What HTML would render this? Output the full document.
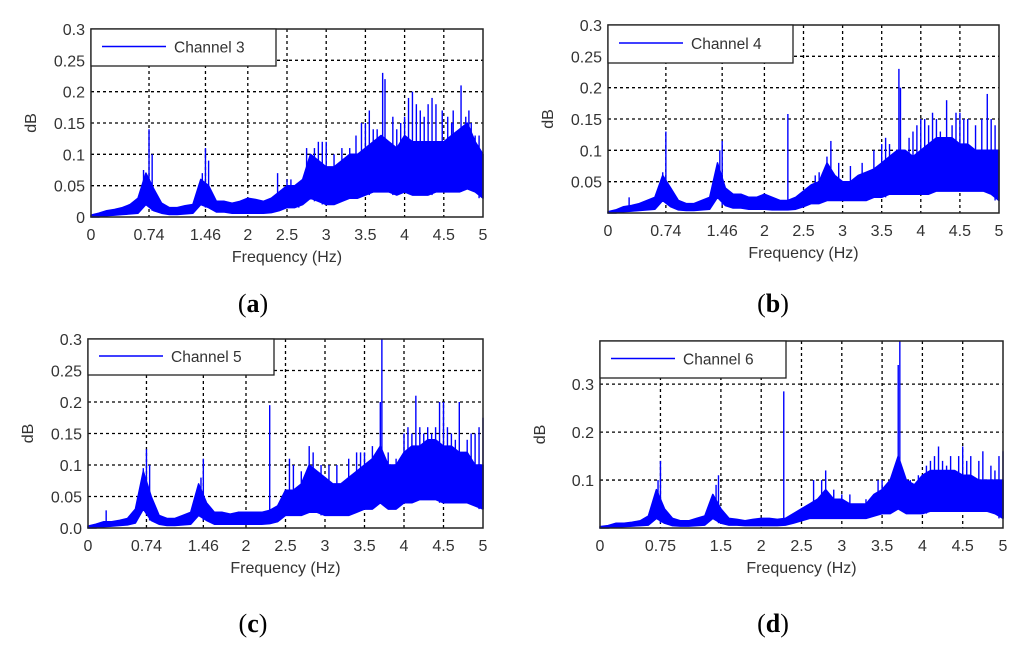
<!DOCTYPE html>
<html><head><meta charset="utf-8">
<style>
html,body{margin:0;padding:0;background:#fff;}
svg{display:block;font-family:"Liberation Sans",sans-serif;}
</style></head>
<body>
<svg id="fig" width="1024" height="645" viewBox="0 0 1024 645"></svg>
<script>
// ---- data (dB), envelope sampled every 0.1 Hz from 0 to 5 Hz ----
const freqStep = 0.1;
const hiA = [0.003,0.006,0.01,0.012,0.015,0.02,0.03,0.07,0.045,0.022,0.015,0.015,0.018,0.02,0.06,0.05,0.025,0.025,0.022,0.025,0.03,0.028,0.025,0.03,0.04,0.05,0.05,0.06,0.1,0.09,0.08,0.08,0.09,0.1,0.1,0.11,0.12,0.13,0.12,0.11,0.13,0.12,0.12,0.12,0.12,0.12,0.13,0.14,0.15,0.12,0.1];
const loA = [0,0,0.002,0.003,0.004,0.005,0.006,0.02,0.01,0.006,0.004,0.004,0.005,0.006,0.02,0.015,0.008,0.008,0.006,0.006,0.006,0.006,0.006,0.007,0.01,0.015,0.015,0.02,0.03,0.025,0.02,0.02,0.025,0.03,0.03,0.035,0.04,0.04,0.04,0.035,0.04,0.035,0.035,0.035,0.04,0.04,0.04,0.04,0.045,0.04,0.03];
const spkA = [[0.74,0.14],[1.46,0.11],[3.72,0.23],[3.75,0.22],[3.45,0.15],[3.55,0.17],[4.1,0.2],[4.35,0.19],[4.4,0.18],[4.72,0.21],[4.2,0.17],[2.38,0.07],[2.85,0.11],[3.0,0.12],[4.85,0.15],[3.95,0.15],[4.55,0.16],[3.3,0.11],[4.62,0.17],[2.95,0.12],[3.6,0.14],[4.0,0.16],[0.67,0.075],[0.78,0.1],[1.42,0.07],[1.5,0.09],[2.75,0.11],[2.9,0.12],[3.1,0.1],[3.2,0.11],[3.38,0.13],[3.5,0.15],[3.65,0.14],[3.85,0.16],[3.9,0.14],[4.05,0.19],[4.15,0.18],[4.25,0.16],[4.3,0.18],[4.48,0.17],[4.6,0.15],[4.78,0.16],[4.82,0.17],[4.9,0.13],[4.95,0.13],[2.5,0.06],[2.55,0.06],[2.65,0.05]];

const hiB = [0.002,0.005,0.01,0.012,0.015,0.02,0.025,0.06,0.04,0.02,0.015,0.015,0.02,0.025,0.08,0.04,0.03,0.03,0.025,0.025,0.03,0.025,0.02,0.02,0.025,0.035,0.045,0.05,0.08,0.06,0.05,0.05,0.06,0.065,0.07,0.08,0.09,0.1,0.1,0.09,0.1,0.11,0.12,0.12,0.12,0.11,0.11,0.1,0.1,0.1,0.1];
const loB = [0,0,0.002,0.003,0.004,0.005,0.006,0.02,0.01,0.005,0.004,0.004,0.005,0.006,0.025,0.012,0.008,0.008,0.006,0.006,0.006,0.005,0.005,0.005,0.006,0.01,0.015,0.015,0.02,0.02,0.02,0.02,0.02,0.02,0.025,0.025,0.03,0.03,0.03,0.03,0.03,0.03,0.035,0.035,0.035,0.035,0.035,0.035,0.035,0.03,0.02];
const spkB = [[0.27,0.025],[0.74,0.13],[1.46,0.115],[2.3,0.158],[2.85,0.115],[3.72,0.23],[3.74,0.2],[4.33,0.18],[4.85,0.19],[4.5,0.16],[4.0,0.15],[4.15,0.16],[4.6,0.15],[3.55,0.12],[3.95,0.14],[4.95,0.14],[0.7,0.065],[1.43,0.1],[2.8,0.09],[2.95,0.08],[3.1,0.075],[3.25,0.08],[3.4,0.1],[3.5,0.11],[3.6,0.11],[3.85,0.12],[3.9,0.13],[4.05,0.15],[4.1,0.14],[4.2,0.15],[4.25,0.13],[4.4,0.14],[4.45,0.16],[4.55,0.15],[4.7,0.14],[4.78,0.15],[4.9,0.15],[2.65,0.06],[2.7,0.065]];

const hiC = [0.003,0.006,0.01,0.01,0.012,0.015,0.03,0.09,0.05,0.02,0.015,0.015,0.02,0.025,0.07,0.04,0.025,0.025,0.022,0.025,0.025,0.025,0.025,0.028,0.035,0.06,0.06,0.07,0.1,0.09,0.08,0.07,0.07,0.08,0.09,0.1,0.11,0.13,0.1,0.1,0.12,0.13,0.13,0.14,0.14,0.13,0.13,0.12,0.12,0.1,0.1];
const loC = [0,0,0.002,0.003,0.004,0.005,0.008,0.03,0.012,0.006,0.004,0.004,0.005,0.006,0.02,0.012,0.006,0.006,0.006,0.006,0.006,0.006,0.006,0.007,0.01,0.02,0.02,0.02,0.025,0.025,0.02,0.02,0.02,0.02,0.025,0.03,0.03,0.04,0.03,0.03,0.04,0.04,0.045,0.045,0.045,0.04,0.04,0.04,0.04,0.035,0.03];
const spkC = [[0.23,0.028],[0.74,0.125],[1.46,0.11],[2.3,0.195],[2.8,0.13],[3.72,0.3],[3.7,0.2],[4.15,0.21],[4.45,0.2],[4.5,0.2],[4.7,0.2],[3.5,0.12],[3.4,0.12],[4.0,0.15],[4.3,0.16],[4.9,0.15],[5.0,0.175],[2.55,0.11],[0.7,0.095],[0.78,0.1],[1.43,0.08],[2.6,0.1],[2.7,0.09],[2.85,0.12],[2.95,0.1],[3.05,0.1],[3.15,0.1],[3.3,0.11],[3.45,0.12],[3.6,0.13],[3.8,0.12],[3.9,0.11],[4.05,0.16],[4.1,0.15],[4.2,0.16],[4.25,0.15],[4.35,0.15],[4.4,0.16],[4.55,0.16],[4.6,0.15],[4.65,0.14],[4.8,0.14],[4.85,0.15],[4.95,0.16]];

const hiD = [0.003,0.005,0.01,0.01,0.012,0.015,0.025,0.08,0.04,0.02,0.015,0.015,0.02,0.025,0.07,0.04,0.02,0.018,0.015,0.018,0.02,0.02,0.018,0.02,0.03,0.04,0.05,0.06,0.08,0.06,0.06,0.05,0.05,0.05,0.07,0.08,0.1,0.15,0.1,0.09,0.11,0.12,0.12,0.12,0.12,0.11,0.11,0.1,0.1,0.1,0.1];
const loD = [0,0,0.002,0.003,0.004,0.005,0.006,0.02,0.01,0.005,0.004,0.004,0.005,0.006,0.02,0.01,0.006,0.006,0.005,0.005,0.005,0.005,0.005,0.006,0.01,0.015,0.02,0.02,0.02,0.02,0.02,0.02,0.02,0.02,0.025,0.03,0.03,0.04,0.03,0.03,0.03,0.035,0.035,0.035,0.035,0.035,0.035,0.035,0.035,0.03,0.02];
const spkD = [[0.75,0.14],[1.47,0.11],[2.28,0.285],[3.72,0.39],[3.7,0.34],[2.8,0.12],[4.2,0.17],[4.5,0.17],[4.75,0.16],[4.1,0.14],[4.35,0.15],[5.0,0.16],[3.45,0.1],[2.65,0.1],[0.72,0.1],[1.44,0.09],[2.75,0.1],[2.9,0.08],[3.0,0.07],[3.1,0.07],[3.3,0.06],[3.5,0.1],[3.6,0.1],[3.85,0.1],[3.95,0.11],[4.05,0.13],[4.15,0.15],[4.25,0.14],[4.3,0.13],[4.45,0.15],[4.55,0.14],[4.6,0.15],[4.7,0.14],[4.85,0.13],[4.9,0.12],[4.95,0.15]];

const ticksAB = [0,0.74,1.46,2,2.5,3,3.5,4,4.5,5];
const ticksD = [0,0.75,1.5,2,2.5,3,3.5,4,4.5,5];
const yTicksA = ["0","0.05","0.1","0.15","0.2","0.25","0.3"];
const yTicksB = ["","0.05","0.1","0.15","0.2","0.25","0.3"];
const yTicksC = ["0.0","0.05","0.1","0.15","0.2","0.25","0.3"];
const yTicksD = ["0.1","0.2","0.3"];

const NS = "http://www.w3.org/2000/svg";
const svg = document.getElementById('fig');
function el(tag, attrs, parent){
  const e = document.createElementNS(NS, tag);
  for (const k in attrs) e.setAttribute(k, attrs[k]);
  (parent||svg).appendChild(e);
  return e;
}
function panel(p){
  const g = el('g', {});
  
  
  const xs = f => p.x0 + (p.x1 - p.x0) * f / 5;
  const ys = v => p.y1 - (p.y1 - p.y0) * v / p.ymax;
  p.xt.forEach(t => {
    if (t > 0 && t < 5) {
      const l = el('line', {x1:xs(t), x2:xs(t), y1:p.y0, y2:p.y1, stroke:'#000', 'stroke-width':1.3, 'stroke-dasharray':'3,3'}, g);
      
      
    }
    const tx = el('text', {x:xs(t), y:p.y1 + 23, 'font-size':16, 'text-anchor':'middle', fill:'#333'}, g);
    tx.textContent = String(t);
    
    
  });
  p.yt.forEach((lab, i) => {
    const v = p.yv[i];
    if (v > 0 && v < p.ymax - 1e-9) {
      const l = el('line', {x1:p.x0, x2:p.x1, y1:ys(v), y2:ys(v), stroke:'#000', 'stroke-width':1.3, 'stroke-dasharray':'3,3'}, g);
      
      
    }
    if (lab) {
      const tx = el('text', {x:p.x0 - 6, y:ys(v) + 6, 'font-size':16, 'text-anchor':'end', fill:'#333'}, g);
      tx.textContent = lab;
      
      
    }
  });
  let pts = [];
  p.hi.forEach((v, i) => pts.push(xs(i*freqStep).toFixed(1) + ',' + ys(v).toFixed(1)));
  for (let i = p.lo.length - 1; i >= 0; i--) pts.push(xs(i*freqStep).toFixed(1) + ',' + ys(p.lo[i]).toFixed(1));
  const band = el('polygon', {points: pts.join(' '), fill:'#0000ff', stroke:'#0000ff', 'stroke-width':1.5, 'stroke-linejoin':'round'}, g);
  
  
  p.spk.forEach(s => {
    const i = Math.round(s[0] / freqStep);
    const base = p.lo[Math.min(i, p.lo.length - 1)];
    const l = el('line', {x1:xs(s[0]), x2:xs(s[0]), y1:ys(base), y2:ys(Math.min(s[1], p.ymax)), stroke:'#0000ff', 'stroke-width':1.4}, g);
    
    
  });
  const fr = el('rect', {x:p.x0, y:p.y0, width:p.x1 - p.x0, height:p.y1 - p.y0, fill:'none', stroke:'#222', 'stroke-width':1.5}, g);
  
  
  const lg = el('g', {}, g);
  
  
  el('rect', {x:p.x0, y:p.y0, width:p.lw, height:p.lh, fill:'#fff', stroke:'#222', 'stroke-width':1.3}, lg);
  el('line', {x1:p.x0 + 11, x2:p.x0 + 75, y1:p.y0 + p.lh/2 - 1, y2:p.y0 + p.lh/2 - 1, stroke:'#0000ff', 'stroke-width':1.5}, lg);
  const lt = el('text', {x:p.x0 + 83, y:p.y0 + p.lh/2 + 5, 'font-size':15.5, fill:'#333'}, lg);
  lt.textContent = p.name;
  
  
  const xl = el('text', {x:(p.x0 + p.x1)/2, y:p.y1 + 45, 'font-size':16, 'text-anchor':'middle', fill:'#333'}, g);
  xl.textContent = 'Frequency (Hz)';
  
  
  const yl = el('text', {x:0, y:0, 'font-size':16, 'text-anchor':'middle', fill:'#333', transform:'translate(' + (p.x0 - 55) + ',' + ((p.y0 + p.y1)/2) + ') rotate(-90)'}, g);
  yl.textContent = 'dB';
  
  
  const cap = el('text', {x:p.cx, y:p.cy, 'font-size':26, 'text-anchor':'middle', fill:'#000', 'font-family':'Liberation Serif, serif'}, g);
  cap.innerHTML = '(<tspan font-weight="bold">' + p.id + '</tspan>)';
  
  
}
const yv7 = [0,0.05,0.1,0.15,0.2,0.25,0.3];
panel({id:'a', x0:91, x1:483, y0:29, y1:217, ymax:0.3, xt:ticksAB, yt:yTicksA, yv:yv7, hi:hiA, lo:loA, spk:spkA, name:'Channel 3', lw:185, lh:37, cx:253, cy:312});
panel({id:'b', x0:608, x1:999, y0:25, y1:213, ymax:0.3, xt:ticksAB, yt:yTicksB, yv:yv7, hi:hiB, lo:loB, spk:spkB, name:'Channel 4', lw:185, lh:38, cx:773, cy:312});
panel({id:'c', x0:88, x1:483, y0:339, y1:528, ymax:0.3, xt:ticksAB, yt:yTicksC, yv:yv7, hi:hiC, lo:loC, spk:spkC, name:'Channel 5', lw:186, lh:36, cx:253, cy:632});
panel({id:'d', x0:600, x1:1003, y0:341, y1:528, ymax:0.39, xt:ticksD, yt:yTicksD, yv:[0.1,0.2,0.3], hi:hiD, lo:loD, spk:spkD, name:'Channel 6', lw:186, lh:37, cx:773, cy:632});
</script>
</body></html>
